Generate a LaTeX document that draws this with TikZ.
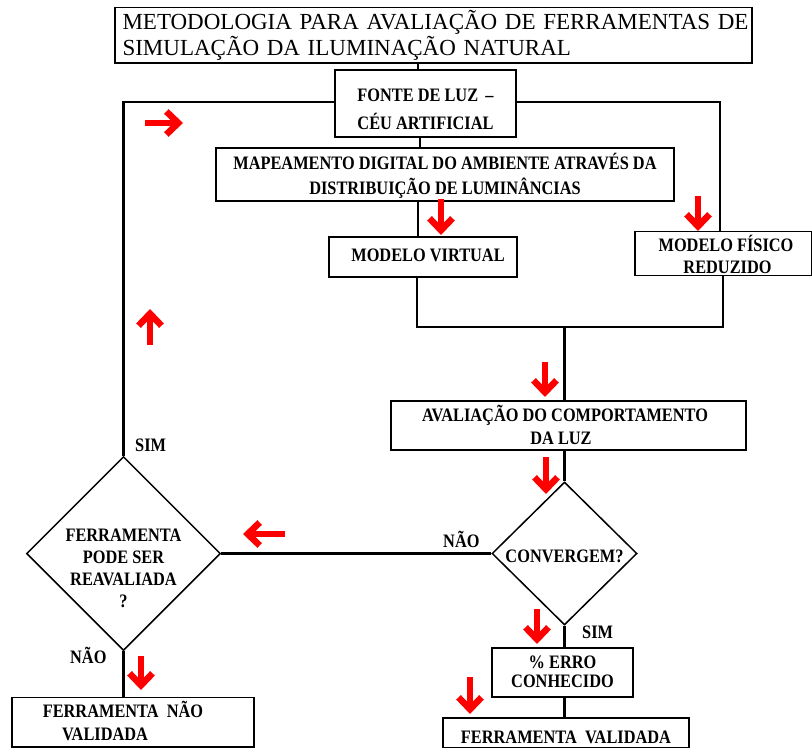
\documentclass[tikz,border=0pt]{standalone}
\usepackage{fontspec}
\setmainfont{Liberation Serif}[FakeStretch=0.86]
\newfontfamily\titlefont{Liberation Serif}
\usetikzlibrary{shapes.geometric,arrows.meta}
\newcommand\bxf[1]{\fontsize{19}{#1}\selectfont\bfseries}
\newcommand\sth[1]{\rule{0pt}{#1pt}}
\newcommand\std[1]{\rule[-#1pt]{0pt}{#1pt}}
\begin{document}
\begin{tikzpicture}[x=1pt,y=-1pt,
  box/.style={draw, line width=1.3pt, rectangle, inner sep=0pt, align=center},
  dia/.style={draw, line width=1.5pt, diamond, inner sep=0pt},
  conn/.style={line width=2.4pt},
  thinconn/.style={line width=1.8pt},
  redarr/.style={draw=red, line width=5.5pt, -{Straight Barb[length=12pt,width=23pt,line width=6.5pt]}},
  lbl/.style={font=\bxf{22}, inner sep=0pt, anchor=base west}]
\fill[white] (0,0) rectangle (812,749);
\useasboundingbox (0,0) rectangle (812,749);

% boxes
\node[box, minimum width=637pt, minimum height=55.5pt, text width=637pt, align=left,
  font={\titlefont\fontsize{23}{25.5}\selectfont}] (title) at (433.5,35.25)
  {\hspace*{7.5pt}\sth{22}METODOLOGIA PARA AVALIAÇÃO DE FERRAMENTAS DE\\
   \hspace*{7.5pt}SIMULAÇÃO DA ILUMINAÇÃO NATURAL\std{7}};
\node[box, minimum width=181pt, minimum height=67pt, font={\bxf{28.3}}] (fonte) at (425.5,103.5)
  {\sth{30}FONTE DE LUZ \,–\\CÉU ARTIFICIAL\std{5.3}};
\node[box, minimum width=458pt, minimum height=49pt, font={\bxf{25}}] (mapa) at (445,174.5)
  {\sth{22}MAPEAMENTO DIGITAL DO AMBIENTE ATRAVÉS DA\\DISTRIBUIÇÃO DE LUMINÂNCIAS\std{6}};
\node[box, minimum width=188pt, minimum height=40pt, font={\bxf{22}}] (virt) at (423,257)
  {\hspace*{10pt}\sth{16}MODELO VIRTUAL\std{6.6}};
\node[box, minimum width=177pt, minimum height=41pt, font={\bxf{21.5}}] (fis) at (723.5,253.5)
  {\hspace*{5pt}\sth{20}MODELO FÍSICO\\\hspace*{8pt}REDUZIDO\std{2.5}};
\node[box, minimum width=355pt, minimum height=49pt, font={\bxf{22.3}}] (aval) at (568.5,425.5)
  {\sth{20}AVALIAÇÃO DO COMPORTAMENTO\hspace*{7pt}\\DA LUZ\std{5.3}\hspace*{15pt}};
\node[dia, minimum width=145pt, minimum height=143pt,
  label={[font=\bxf{22}, inner sep=0pt, yshift=-3pt]center:CONVERGEM?}] (conv) at (564.5,553.5) {};
\node[box, minimum width=141pt, minimum height=49pt, font={\bxf{19}}] (erro) at (562.5,672.5)
  {\sth{16}\% ERRO\\CONHECIDO\std{5.4}};
\node[box, minimum width=246pt, minimum height=29.5pt, font={\bxf{22}}] (valid) at (566,732.75)
  {\sth{24}FERRAMENTA\ \ VALIDADA\std{2.9}};
\node[dia, minimum width=194pt, minimum height=194pt,
  label={[font=\bxf{22}, inner sep=0pt, align=center, yshift=-14.5pt]center:{\sth{16}FERRAMENTA\\PODE SER\\REAVALIADA\\?\std{4}}}] (reav) at (123.5,553.5) {};
\node[box, minimum width=242pt, minimum height=46pt, font={\bxf{23}}] (nval) at (133,722)
  {\sth{20}FERRAMENTA\ \ NÃO\hspace*{20pt}\\VALIDADA\std{6.7}\hspace*{56pt}};

% labels
\node[lbl] (sim1) at (135,451) {SIM};
\node[lbl] (nao1) at (443,547) {NÃO};
\node[lbl] (sim2) at (582,638) {SIM};
\node[lbl] (nao2) at (70,663) {NÃO};

% connectors
\coordinate (cx1) at (418,0);
\coordinate (cx2) at (420,0);
\coordinate (cx3) at (418,0);
\coordinate (L) at (123.5,102);
\coordinate (R) at (720,102);
\coordinate (jl) at (417,327);
\coordinate (jr) at (723,327);
\coordinate (J) at (564.5,327);
\draw[thinconn] (title.south -| cx1) -- (fonte.north -| cx1);
\draw[thinconn] (fonte.south -| cx2) -- (mapa.north -| cx2);
\draw[conn] (mapa.south -| cx3) -- (virt.north -| cx3);
\draw[conn] (fonte.west |- L) -- (L) -- (reav.north);
\draw[conn] (fonte.east |- R) -- (R) -- (R |- fis.north);
\draw[conn] (virt.south -| jl) -- (jl) -- (jr) -- (fis.south -| jr);
\draw[conn] (J) -- (aval.north -| J);
\draw[conn] (aval.south -| J) -- (conv.north);
\draw[conn] (conv.west) -- (reav.east);
\draw[conn] (conv.south) -- (erro.north -| conv.south);
\draw[conn] (erro.south -| conv.south) -- (valid.north -| conv.south);
\draw[conn] (reav.south) -- (nval.north -| reav.south);

% red arrows
\draw[redarr] (145,123) -- (183,123);
\draw[redarr] (150,345) -- (150,309);
\draw[redarr] (441,199) -- (441,235);
\draw[redarr] (698,196) -- (698,231);
\draw[redarr] (545,362) -- (545,397);
\draw[redarr] (546,457) -- (546,494);
\draw[redarr] (285,534) -- (243,534);
\draw[redarr] (537,609) -- (537,644);
\draw[redarr] (141,656) -- (141,690);
\draw[redarr] (470,677) -- (470,714);
\end{tikzpicture}
\end{document}
